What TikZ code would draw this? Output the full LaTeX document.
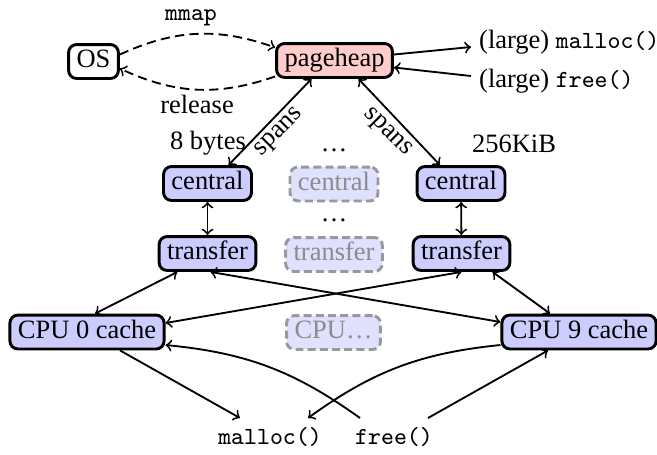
\documentclass[tikz,border=0pt]{standalone}
\usepackage{fontspec}
\setmainfont{Liberation Serif}
\usetikzlibrary{calc}
\newcommand\mycode[1]{{\ttfamily\fontsize{9.3pt}{11pt}\selectfont #1}}
\begin{document}
\begin{tikzpicture}[x=0.3776pt,y=-0.3776pt,
  box/.style={draw, line width=1.1pt, rounded corners=3pt, inner xsep=3pt, inner ysep=2pt, text height=6.8pt, text depth=2pt},
  bluebox/.style={box, fill=blue!20},
  ghost/.style={box, draw=black!40, fill=blue!12, text=black!45, dash pattern=on 3pt off 1.6pt},
  conn/.style={line width=0.7pt},
  dashconn/.style={conn, dash pattern=on 3.5pt off 2pt},
  lbl/.style={inner sep=1pt}]
\useasboundingbox (0,0) rectangle (657,454);

\node[box] (os) at (93.5,61.5) {OS};
\node[box, fill=red!20] (ph) at (334.5,60.5) {pageheap};
\node[lbl, anchor=west] (lm) at (476,42) {(large) \mycode{malloc()}};
\node[lbl, anchor=west] (lf) at (476,81) {(large) \mycode{free()}};
\node[lbl] (mmap) at (191,18) {\mycode{mmap}};
\node[lbl] (rel) at (197,104) {release};

\node[bluebox] (c1) at (207.5,183.5) {central};
\node[ghost] (c2) at (334,184) {central};
\node[bluebox] (c3) at (461,183.5) {central};
\node[bluebox] (t1) at (207.5,253.5) {transfer};
\node[ghost] (t2) at (334,254.5) {transfer};
\node[bluebox] (t3) at (461.5,253.5) {transfer};
\node[bluebox] (cpu0) at (87,332) {CPU 0 cache};
\node[ghost] (cpux) at (333.5,332.5) {CPU\dots};
\node[bluebox] (cpu9) at (579,332) {CPU 9 cache};

\node[lbl] (d1) at (334,150) {\dots};
\node[lbl] (d2) at (334,220) {\dots};
\node[lbl] (b8) at (208,143) {8 bytes};
\node[lbl] (k256) at (514,144) {256KiB};
\node[lbl, rotate=45] (s1) at (280,133) {spans};
\node[lbl, rotate=-45] (s2) at (387,133) {spans};

\node[lbl] (mal) at (270,437) {\mycode{malloc()}};
\node[lbl] (fre) at (394,437) {\mycode{free()}};

% OS <-> pageheap
\draw[dashconn,->] ($(os.east)+(0,-7)$) to[bend left=22] ($(ph.west)+(0,-13)$);
\draw[dashconn,->] ($(ph.west)+(0,16)$) to[bend left=22] ($(os.east)+(0,7)$);

% large malloc / free
\draw[conn,->] ($(ph.east)+(0,-6)$) -- ($(lm.west)+(-5,5)$);
\draw[conn,->] ($(lf.west)+(-5,-5)$) -- ($(ph.east)+(0,7)$);

% pageheap <-> central
\draw[conn,<->] ($(ph.south)+(-23,0)$) -- ($(c1.north)+(21,0)$);
\draw[conn,<->] ($(ph.south)+(24,0)$) -- ($(c3.north)+(-21,0)$);

% central <-> transfer
\draw[conn,<->] (c1) -- (t1);
\draw[conn,<->] (c3) -- (t3);

% transfer <-> cpu
\draw[conn,<->] ($(t1.south)+(-30,0)$) -- ($(cpu0.north)+(8,0)$);
\draw[conn,<->] ($(t1.south)+(3,0)$) -- ($(cpu9.west)+(0,-10)$);
\draw[conn,<->] (t3.south) -- ($(cpu0.east)+(0,-9)$);
\draw[conn,<->] ($(t3.south)+(31,0)$) -- ($(cpu9.north)+(-29,0)$);

% cpu <-> malloc/free
\draw[conn,->] ($(cpu0.south)+(33,0)$) -- ($(mal.center)+(-30,-19)$);
\draw[conn,->] ($(fre.center)+(-34,-19)$) to[bend right=15] ($(cpu0.east)+(0,13)$);
\draw[conn,->] ($(cpu9.west)+(0,13)$) to[bend right=15] ($(mal.center)+(38,-19)$);
\draw[conn,->] ($(fre.center)+(34,-19)$) -- ($(cpu9.south)+(-31,0)$);
\end{tikzpicture}
\end{document}
